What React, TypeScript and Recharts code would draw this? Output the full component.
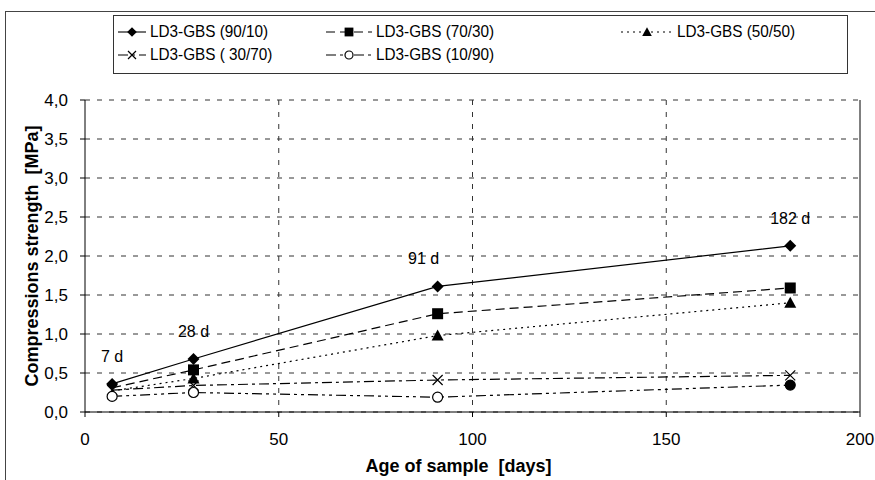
import { LineChart, Line, XAxis, YAxis, CartesianGrid, Legend, ReferenceLine, LabelList } from 'recharts';

// age of sample (days) and compressive strength (MPa) per mix
const ages = [7, 28, 91, 182];
const dayLabels = ['7 d', '28 d', '91 d', '182 d'];
const s9010 = [0.36, 0.68, 1.61, 2.13];
const s7030 = [0.31, 0.54, 1.26, 1.59];
const s5050 = [0.27, 0.43, 0.98, 1.4];
const s3070 = [0.28, 0.34, 0.41, 0.47];
const s1090 = [0.2, 0.25, 0.19, 0.345];

const xTicks = [0, 50, 100, 150, 200];
const yTicks = [0, 0.5, 1, 1.5, 2, 2.5, 3, 3.5, 4];

const data = ages.map((age, i) => ({
  age,
  day: dayLabels[i],
  s9010: s9010[i],
  s7030: s7030[i],
  s5050: s5050[i],
  s3070: s3070[i],
  s1090: s1090[i],
}));

type Shape = 'diamond' | 'square' | 'triangle' | 'cross' | 'circle';

const series: { key: string; name: string; dash?: string; shape: Shape }[] = [
  { key: 's9010', name: 'LD3-GBS (90/10)', shape: 'diamond' },
  { key: 's7030', name: 'LD3-GBS (70/30)', dash: '9 5', shape: 'square' },
  { key: 's5050', name: 'LD3-GBS (50/50)', dash: '2 4', shape: 'triangle' },
  { key: 's3070', name: 'LD3-GBS ( 30/70)', dash: '10 4 3 4', shape: 'cross' },
  { key: 's1090', name: 'LD3-GBS (10/90)', dash: '10 4 3 4 3 4', shape: 'circle' },
];

const FONT = '"Liberation Sans", Arial, sans-serif';

function Marker({ shape, cx, cy, filled, s = 1 }: { shape: Shape; cx: number; cy: number; filled?: boolean; s?: number }) {
  if (shape === 'diamond')
    return <path d={`M${cx},${cy - 6 * s}L${cx + 6 * s},${cy}L${cx},${cy + 6 * s}L${cx - 6 * s},${cy}Z`} fill="#000" />;
  if (shape === 'square') return <rect x={cx - 5.5 * s} y={cy - 5.5 * s} width={11 * s} height={11 * s} fill="#000" />;
  if (shape === 'triangle')
    return <path d={`M${cx},${cy - 6 * s}L${cx + 6 * s},${cy + 5 * s}L${cx - 6 * s},${cy + 5 * s}Z`} fill="#000" />;
  if (shape === 'cross')
    return (
      <path
        d={`M${cx - 5 * s},${cy - 5 * s}L${cx + 5 * s},${cy + 5 * s}M${cx + 5 * s},${cy - 5 * s}L${cx - 5 * s},${cy + 5 * s}`}
        stroke="#000"
        strokeWidth={1.2}
      />
    );
  return <circle cx={cx} cy={cy} r={5 * s} fill={filled ? '#000' : '#fff'} stroke="#000" strokeWidth={1.2} />;
}

function makeDot(shape: Shape, skipFirst: boolean, fillLast: boolean) {
  return (props: any) => {
    const { cx, cy, index, key } = props;
    if (cx == null || cy == null || (skipFirst && index === 0)) return <g key={key} />;
    return (
      <g key={key}>
        <Marker shape={shape} cx={cx} cy={cy} filled={fillLast && index === ages.length - 1} />
      </g>
    );
  };
}

function LegendSymbol({ dash, shape, w }: { dash?: string; shape: Shape; w: number }) {
  return (
    <svg width={w} height={14} style={{ display: 'block' }}>
      <line x1={0} y1={7} x2={w} y2={7} stroke="#000" strokeWidth={1.1} strokeDasharray={dash} />
      <Marker shape={shape} cx={w / 2} cy={7} s={0.8} />
    </svg>
  );
}

function renderLegend() {
  const cols = [4, 212, 507];
  const symW = [28, 46, 52];
  return (
    <div
      style={{
        position: 'relative',
        width: 735,
        height: 59,
        boxSizing: 'border-box',
        border: '1px solid #333',
        background: '#fff',
        fontFamily: FONT,
        fontSize: 17,
      }}
    >
      {series.map((s, i) => (
        <div
          key={s.key}
          style={{
            position: 'absolute',
            left: cols[i % 3],
            top: i < 3 ? 6 : 29,
            display: 'flex',
            alignItems: 'center',
            gap: 4,
            whiteSpace: 'pre',
          }}
        >
          <LegendSymbol dash={s.dash} shape={s.shape} w={symW[i % 3]} />
          <span style={{ display: 'inline-block', transform: 'scaleX(0.9)', transformOrigin: 'left center' }}>
            {s.name}
          </span>
        </div>
      ))}
    </div>
  );
}

function DayLabel(props: any) {
  const { x, y, value, index } = props;
  const dx = index === 2 ? -14 : 0;
  return (
    <text x={x + dx} y={y - 22} textAnchor="middle" fontFamily={FONT} fontSize={16} fill="#000">
      {value}
    </text>
  );
}

export default function App() {
  return (
    <div style={{ position: 'fixed', left: 0, top: 0, width: 875, height: 480, background: '#fff' }}>
      <div
        style={{
          position: 'absolute',
          left: 5,
          top: 11,
          width: 900,
          height: 500,
          borderLeft: '1.5px solid #444',
          borderTop: '1.5px solid #444',
        }}
      />
      <LineChart
        width={875}
        height={480}
        data={data}
        margin={{ top: 100, right: 15, bottom: 8, left: 0 }}
        style={{ fontFamily: FONT }}
      >
        <CartesianGrid stroke="#333" strokeDasharray="5 7" verticalValues={[50, 100, 150]} />
        <XAxis
          dataKey="age"
          type="number"
          domain={[0, 200]}
          ticks={xTicks}
          height={60}
          tickSize={5}
          tickMargin={16}
          stroke="#000"
          tick={{ fill: '#000', fontSize: 17 }}
          label={{
            value: 'Age of sample\u00A0 [days]',
            position: 'insideBottom',
            offset: 0,
            dx: -14,
            fill: '#000',
            fontSize: 18,
            fontWeight: 'bold',
          }}
        />
        <YAxis
          type="number"
          domain={[0, 4]}
          ticks={yTicks}
          width={85}
          tickSize={5}
          tickMargin={12}
          stroke="#000"
          tick={{ fill: '#000', fontSize: 17 }}
          tickFormatter={(v: number) => v.toFixed(1).replace('.', ',')}
          label={{
            value: 'Compressions strength\u00A0 [MPa]',
            angle: -90,
            position: 'insideLeft',
            offset: 32,
            fill: '#000',
            fontSize: 18,
            fontWeight: 'bold',
            style: { textAnchor: 'middle' },
          }}
        />
        <ReferenceLine x={200} stroke="#000" strokeWidth={1} />
        <Legend
          layout="horizontal"
          verticalAlign="middle"
          align="center"
          content={renderLegend}
          wrapperStyle={{ top: 15, left: 113, width: 735, height: 59 }}
        />
        {series.map((s) => (
          <Line
            key={s.key}
            dataKey={s.key}
            name={s.name}
            type="linear"
            stroke="#000"
            strokeWidth={1.2}
            strokeDasharray={s.dash}
            dot={makeDot(s.shape, s.shape === 'square' || s.shape === 'triangle', s.shape === 'circle')}
            activeDot={false}
            isAnimationActive={false}
          >
            {s.key === 's9010' && <LabelList dataKey="day" content={DayLabel} />}
          </Line>
        ))}
      </LineChart>
    </div>
  );
}
